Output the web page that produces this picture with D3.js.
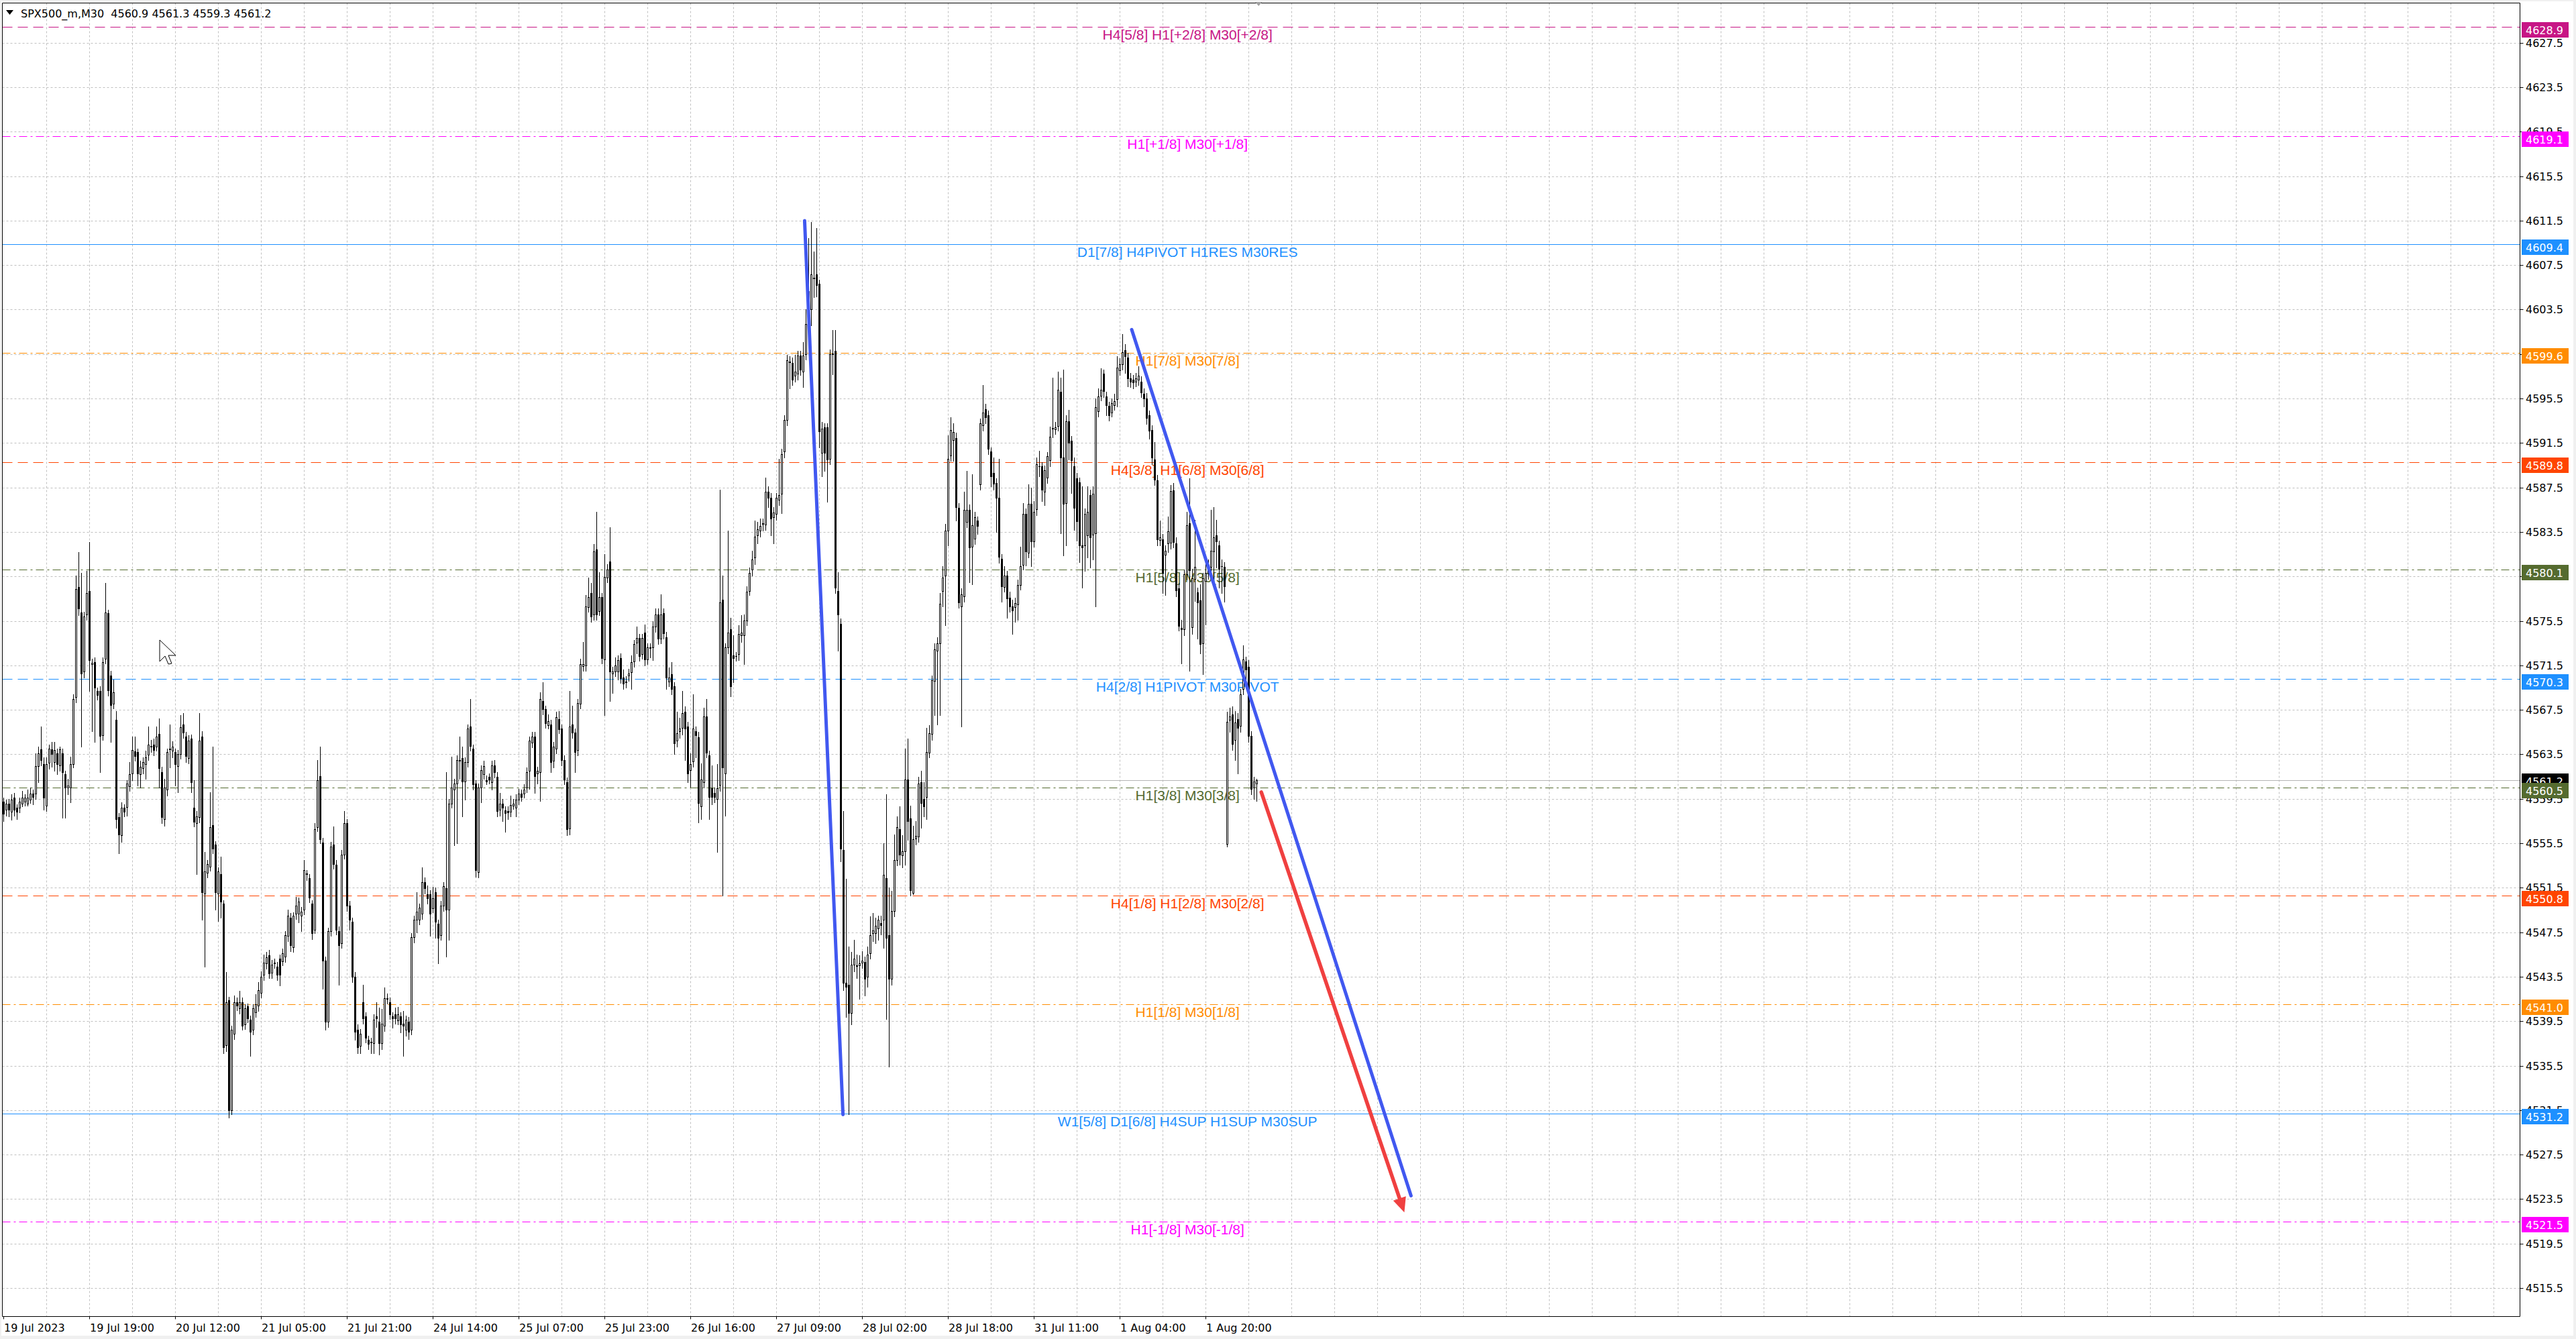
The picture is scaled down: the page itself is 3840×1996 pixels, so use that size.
<!DOCTYPE html>
<html>
<head>
<meta charset="utf-8">
<script src="https://cdn.jsdelivr.net/npm/d3@7"></script>
<style>
  body { margin: 0; background: #f0f0f0; overflow: hidden; }
</style>
</head>
<body>
<script>
// SPX500_m, M30 candles (one value per bar)
const openPrices = [
  4559.25,4558.55,4559.08,4558.37,4559.61,4558.72,4558.72,4559.08,4559.25,4559.08,
  4559.43,4559.96,4559.96,4562.44,4563.92,4562.62,4558.90,4562.79,4563.93,4562.79,
  4563.57,4562.51,4563.57,4561.73,4560.5,4560.5,4562.62,4568.63,4578.55,4576.25,
  4570.93,4576.07,4578.19,4571.6,4571.82,4569.17,4569.17,4565.27,4572.07,4576.18,
  4570.58,4568.1,4566.58,4557.84,4556.25,4558.72,4558.72,4560.67,4561.73,4563.78,
  4563.68,4561.73,4562.27,4562.62,4563.43,4564.2,4564.35,4564.21,4565.34,4561.91,
  4557.66,4560.32,4563.9,4563.86,4563.68,4562.44,4563.5,4566.16,4565.1,4563.15,
  4564.92,4558.72,4557.31,4557.84,4565.1,4550.94,4552.88,4553.41,4557.13,4555.36,
  4550.94,4552.71,4550.05,4537.31,4541.38,4531.47,4538.37,4541.2,4540.67,4541.2,
  4539.24,4540.85,4539.61,4538.72,4540.32,4540.85,4542.08,4543.68,4544.74,4545.45,
  4543.85,4544.7,4544.39,4545.1,4544.92,4545.27,4547.22,4548.81,4546.16,4549.17,
  4549.17,4548.99,4549.52,4552.7,4552.35,4550.05,4547.75,4556.95,4561.56,4555.54,
  4544.92,4539.43,4547.57,4555.36,4553.59,4547.57,4546.51,4554.48,4557.31,4549.87,
  4548.46,4543.5,4538.72,4537.31,4541.2,4539.96,4537.84,4537.6,4537.49,4539.96,
  4539.43,4537.49,4539.08,4541.5,4541.2,4539.96,4540.14,4539.61,4539.96,4539.26,
  4538.72,4539.43,4538.72,4547.04,4548.63,4548.63,4549.17,4551.99,4550.94,4550.94,
  4549.7,4551.1,4548.28,4547.22,4549.87,4551.47,4549.52,4559.08,4560.32,4560.85,
  4562.95,4563.15,4561.02,4562.79,4565.98,4564.03,4560.85,4552.88,4560.5,4561.73,
  4561.2,4561.45,4561.02,4562.51,4561.45,4558.55,4559.08,4558.48,4558.4,4558.37,
  4558.9,4558.72,4559.43,4559.96,4559.96,4560.5,4562.03,4564.56,4565.1,4561.73,
  4561.91,4568.28,4567.57,4566.16,4566.16,4562.97,4564.03,4566.69,4565.8,4562.97,
  4561.02,4556.78,4566.16,4565.45,4563.86,4568.1,4571.47,4571.47,4576.78,4578.02,
  4576.07,4581.91,4576.42,4577.66,4571.98,4579.43,4580.85,4570.76,4570.93,4570.93,
  4572.18,4570.4,4570.05,4570.58,4570.93,4571.82,4573.5,4573.95,4572.53,4574.45,
  4572.03,4573.1,4573.11,4574.99,4576.07,4573.91,4576.18,4574.02,4570.04,4570.68,
  4569.6,4564.76,4565.56,4565.83,4567.34,4565.99,4562.06,4562.87,4565.56,4565.03,
  4558.83,4560.99,4566.91,4563.41,4560.45,4560.02,4559.48,4560.72,4577.42,4561.79,
  4573.11,4574.72,4572.41,4572.33,4572.57,4574.18,4574.18,4575.53,4578.22,4580.11,
  4581.19,4583.18,4583.61,4584.2,4584.15,4587.11,4586.57,4584.8,4585.12,4586.41,
  4586.95,4590.72,4593.58,4598.8,4598.69,4597.51,4597.73,4599.34,4597.89,4599.5,
  4602.2,4603.54,4606.3,4606.67,4605.8,4590.6,4592.88,4592.88,4590.07,4599.5,
  4599.77,4578.2,4575.26,4554.9,4542.94,4542.78,4540.24,4544.56,4544.5,4544.56,
  4544.72,4544.83,4543.48,4545.64,4547.41,4547.41,4547.79,4548.33,4548.6,4552.37,
  4547.25,4543.32,4549.41,4553.98,4556.79,4554.41,4554.79,4561.25,4557.76,4551.02,
  4555.87,4556.14,4560.99,4559.48,4559.64,4563.68,4565.29,4570.14,4572.84,4573.48,
  4578.22,4579.57,4583.61,4590.34,4591.8,4591.96,4585.68,4576.83,4577.72,4584.45,
  4585.51,4582.14,4582.85,4584.55,4587.81,4593.12,4594.53,4594.0,4590.71,4588.8,
  4587.88,4586.57,4581.08,4578.6,4579.6,4577.61,4576.83,4576.76,4577.01,4578.78,
  4580.55,4585.15,4581.61,4586.04,4582.68,4585.51,4589.4,4589.4,4587.1,4588.34,
  4589.93,4592.85,4592.76,4593.05,4596.13,4590.22,4586.11,4593.47,4591.7,4589.4,
  4588.34,4587.99,4582.32,4582.32,4583.21,4586.82,4583.21,4583.38,4594.36,4595.77,
  4597.72,4595.67,4594.82,4594.25,4594.89,4595.42,4598.07,4598.6,4599.84,4599.2,
  4597.3,4597.19,4597.01,4597.19,4597.01,4595.95,4595.52,4594.0,4592.69,4590.0,
  4588.16,4582.78,4582.85,4581.44,4582.5,4582.5,4587.24,4582.5,4578.43,4574.89,
  4574.71,4579.67,4584.27,4574.89,4579.31,4578.07,4577.37,4573.47,4579.13,4579.84,
  4580.37,4581.79,4583.21,4582.32,4580.4,4580.37,4555.4,4566.64,4567.1,4564.8,
  4566.64,4566.04,4569.4,4571.88,4571.35,4565.15,4560.55,4560.9
];
const highPrices = [
  4559.6,4559.4,4559.5,4559.9,4560.0,4559.0,4559.6,4560.2,4559.9,4560.3,
  4560.5,4560.3,4563.6,4564.2,4566.0,4563.2,4563.2,4564.4,4564.6,4564.6,
  4564.0,4564.2,4564.0,4562.0,4561.3,4563.3,4568.9,4579.6,4581.7,4579.8,
  4576.3,4580.0,4582.6,4572.1,4572.2,4569.5,4569.6,4572.2,4578.9,4576.5,
  4571.0,4570.2,4567.4,4558.2,4559.2,4559.0,4561.2,4562.8,4565.1,4565.1,
  4564.0,4562.9,4563.2,4563.8,4565.98,4564.8,4564.9,4566.0,4566.7,4562.4,
  4561.3,4564.0,4566.2,4564.7,4564.0,4563.9,4567.0,4567.2,4565.5,4565.2,
  4565.3,4561.2,4558.4,4567.2,4565.6,4554.7,4554.0,4560.1,4564.2,4555.7,
  4553.3,4554.3,4550.4,4543.9,4541.7,4539.1,4541.8,4541.6,4542.2,4541.6,
  4541.0,4541.1,4540.0,4541.0,4541.9,4543.0,4544.0,4545.5,4545.7,4545.9,
  4545.0,4545.1,4544.8,4545.5,4546.0,4547.6,4549.5,4549.2,4549.3,4550.7,
  4550.6,4549.8,4554.0,4553.1,4552.7,4550.4,4557.3,4563.0,4564.2,4556.0,
  4545.3,4547.9,4555.6,4557.0,4554.0,4548.0,4554.9,4558.4,4557.7,4550.3,
  4548.8,4543.9,4539.2,4538.8,4542.8,4540.3,4538.2,4538.0,4540.1,4541.2,
  4540.7,4540.6,4542.5,4542.0,4541.6,4540.3,4540.7,4540.8,4540.3,4540.4,
  4540.0,4539.9,4547.4,4549.0,4551.1,4550.1,4553.3,4552.4,4551.7,4551.3,
  4551.6,4551.5,4548.6,4550.3,4552.0,4561.9,4559.5,4563.3,4561.3,4563.4,
  4565.1,4564.2,4563.2,4566.2,4568.5,4564.4,4561.2,4560.9,4562.5,4562.9,
  4561.6,4561.8,4562.9,4563.0,4561.9,4560.0,4559.5,4558.8,4558.8,4559.8,
  4559.5,4559.9,4560.4,4560.3,4560.8,4562.3,4565.1,4565.5,4565.5,4562.4,
  4569.1,4570.0,4567.9,4567.1,4566.6,4564.6,4567.3,4567.4,4566.2,4563.4,
  4561.4,4569.2,4567.9,4565.8,4568.5,4572.1,4573.6,4577.8,4579.4,4578.9,
  4582.4,4585.3,4579.9,4578.0,4581.5,4580.6,4583.9,4571.4,4572.2,4572.4,
  4572.6,4571.1,4570.5,4571.2,4572.4,4573.8,4575.0,4574.3,4574.3,4575.2,
  4573.5,4573.5,4575.5,4576.6,4576.6,4577.9,4576.6,4574.5,4571.3,4571.8,
  4570.0,4567.3,4566.8,4569.2,4567.8,4566.4,4563.6,4568.9,4566.0,4565.5,
  4562.7,4567.7,4568.5,4563.8,4562.5,4560.5,4562.6,4587.3,4579.6,4573.5,
  4583.6,4575.8,4574.2,4572.7,4575.1,4576.0,4576.1,4578.6,4580.3,4581.8,
  4584.5,4584.4,4584.7,4584.7,4588.4,4587.6,4587.0,4585.7,4587.0,4590.1,
  4591.0,4594.0,4599.4,4599.3,4599.2,4599.4,4599.8,4599.8,4600.6,4603.5,
  4609.9,4611.35,4608.7,4610.8,4606.2,4593.4,4593.3,4593.3,4599.9,4601.65,
  4601.65,4579.9,4575.7,4558.4,4552.3,4546.2,4545.7,4546.8,4545.5,4545.4,
  4545.8,4545.3,4546.2,4548.9,4549.2,4548.8,4549.0,4549.0,4555.5,4559.9,
  4551.5,4551.2,4556.3,4557.9,4558.8,4556.2,4564.0,4564.9,4558.9,4557.1,
  4557.5,4561.5,4562.0,4561.0,4565.9,4566.1,4570.6,4573.5,4574.0,4578.0,
  4580.4,4584.2,4592.2,4593.8,4593.3,4592.4,4586.1,4578.4,4587.1,4589.0,
  4586.0,4588.7,4585.3,4584.9,4593.7,4596.7,4595.0,4594.4,4591.1,4590.2,
  4588.3,4590.1,4581.5,4580.4,4580.0,4578.1,4577.4,4577.6,4579.2,4582.2,
  4586.1,4585.6,4587.8,4587.5,4586.3,4590.2,4590.8,4589.8,4589.5,4590.7,
  4593.0,4597.4,4593.4,4597.9,4597.4,4598.1,4594.0,4594.5,4592.1,4590.2,
  4588.8,4588.4,4587.6,4585.6,4587.6,4587.3,4587.6,4595.5,4596.4,4598.2,
  4598.1,4596.1,4595.2,4595.5,4595.9,4599.3,4599.1,4601.3,4600.4,4599.6,
  4597.8,4597.6,4597.8,4598.4,4597.5,4596.4,4596.0,4594.4,4593.1,4591.6,
  4588.6,4584.5,4583.3,4582.3,4584.9,4587.7,4587.9,4583.0,4578.9,4575.6,
  4580.1,4585.3,4588.3,4580.2,4584.6,4578.5,4578.8,4579.8,4581.3,4581.0,
  4585.5,4585.7,4584.6,4582.7,4581.0,4580.8,4567.3,4567.7,4567.8,4567.4,
  4567.2,4569.4,4573.3,4572.3,4572.0,4565.6,4561.5,4561.3
];
const lowPrices = [
  4557.5,4558.0,4557.9,4557.6,4558.0,4557.7,4558.3,4558.8,4558.9,4558.9,
  4559.1,4559.0,4559.5,4561.0,4562.5,4558.5,4558.4,4562.2,4562.4,4562.0,
  4561.7,4562.0,4557.8,4557.8,4559.9,4559.2,4562.3,4568.2,4576.0,4564.2,
  4570.4,4575.6,4569.2,4565.6,4564.6,4568.4,4561.9,4564.8,4571.7,4568.8,
  4564.6,4567.6,4556.9,4554.6,4555.6,4557.9,4558.0,4560.2,4561.2,4562.9,
  4560.7,4560.5,4561.8,4561.3,4563.0,4563.7,4563.4,4563.8,4560.5,4557.3,
  4557.1,4559.8,4562.3,4563.2,4560.7,4560.1,4563.1,4565.0,4562.8,4562.7,
  4560.1,4557.0,4552.7,4557.4,4548.6,4544.4,4552.4,4553.0,4554.6,4549.5,
  4548.5,4548.8,4536.6,4536.8,4530.8,4531.1,4537.9,4540.5,4540.2,4538.7,
  4538.8,4539.4,4536.4,4538.3,4539.9,4540.4,4541.6,4543.2,4544.2,4543.4,
  4543.4,4544.3,4543.2,4542.7,4544.5,4544.8,4546.7,4545.8,4545.7,4548.7,
  4548.4,4547.6,4549.1,4552.2,4550.2,4546.9,4547.4,4556.6,4555.5,4542.4,
  4538.7,4539.0,4547.2,4553.2,4547.3,4542.8,4546.1,4554.1,4549.4,4547.7,
  4543.0,4537.8,4536.6,4536.6,4539.3,4537.6,4537.0,4536.6,4536.6,4539.0,
  4536.5,4537.0,4538.6,4541.1,4539.7,4538.9,4539.3,4539.2,4538.5,4536.4,
  4538.2,4537.9,4538.3,4546.6,4547.5,4548.2,4548.7,4551.0,4550.1,4547.2,
  4549.3,4547.0,4544.7,4546.8,4549.4,4545.3,4546.8,4558.7,4555.3,4555.5,
  4561.3,4557.9,4559.4,4562.4,4563.8,4560.3,4552.5,4552.4,4559.2,4561.3,
  4560.8,4560.9,4560.3,4561.4,4557.9,4558.0,4557.5,4556.5,4557.7,4557.9,
  4558.6,4557.9,4559.0,4559.3,4559.6,4560.1,4560.4,4564.1,4560.0,4560.9,
  4559.3,4567.1,4565.9,4565.8,4561.9,4562.3,4563.6,4565.4,4562.5,4560.8,
  4556.2,4556.3,4565.0,4561.9,4563.4,4567.6,4571.0,4571.0,4576.3,4575.4,
  4575.6,4575.6,4576.0,4571.7,4567.0,4579.0,4568.3,4569.0,4570.5,4570.2,
  4569.9,4569.4,4569.5,4570.1,4569.4,4571.4,4572.6,4571.9,4572.1,4571.5,
  4571.6,4572.2,4572.0,4574.5,4573.4,4573.5,4573.9,4569.4,4569.6,4568.9,
  4563.5,4564.2,4565.0,4565.3,4563.0,4561.0,4560.6,4562.4,4563.2,4557.4,
  4557.7,4560.5,4563.2,4557.7,4559.0,4559.2,4554.7,4560.2,4550.8,4558.0,
  4572.6,4568.7,4570.0,4571.9,4572.0,4573.6,4571.6,4575.1,4577.8,4579.6,
  4580.6,4582.5,4583.1,4583.6,4583.7,4585.7,4583.2,4582.5,4584.6,4585.9,
  4585.2,4590.2,4593.1,4596.4,4596.7,4597.0,4597.2,4597.6,4596.5,4599.0,
  4601.8,4602.1,4604.6,4604.7,4591.1,4588.5,4589.0,4586.2,4589.6,4597.7,
  4578.0,4572.8,4553.9,4542.3,4539.9,4531.1,4539.2,4544.0,4543.4,4541.5,
  4544.3,4541.8,4542.6,4545.1,4546.7,4546.5,4546.8,4547.3,4546.1,4539.7,
  4535.4,4542.8,4548.9,4553.5,4553.6,4553.3,4553.6,4555.8,4550.8,4550.9,
  4555.4,4555.6,4556.9,4557.9,4557.7,4563.2,4564.8,4567.0,4566.2,4567.0,
  4576.8,4575.1,4582.3,4589.9,4589.9,4584.5,4576.7,4566.0,4577.2,4583.9,
  4579.0,4578.8,4582.4,4583.3,4587.3,4592.6,4593.3,4590.5,4587.6,4587.3,
  4583.5,4580.7,4577.2,4578.1,4575.8,4576.3,4574.3,4575.4,4575.6,4578.3,
  4580.1,4580.5,4581.2,4580.4,4582.2,4585.0,4588.5,4586.3,4585.9,4587.9,
  4589.4,4592.0,4592.3,4592.6,4583.4,4581.4,4582.3,4590.0,4587.0,4583.7,
  4582.7,4580.8,4578.5,4580.0,4581.2,4580.3,4581.0,4576.8,4593.9,4595.3,
  4595.6,4594.0,4593.5,4593.9,4594.5,4594.8,4597.6,4598.1,4597.8,4596.6,
  4596.5,4596.4,4596.6,4596.7,4595.6,4594.8,4593.2,4591.9,4589.6,4587.7,
  4582.3,4582.3,4578.0,4577.8,4581.7,4582.0,4582.1,4577.7,4574.6,4571.7,
  4574.2,4579.2,4571.0,4574.3,4577.3,4573.9,4572.6,4570.7,4575.2,4579.3,
  4579.9,4578.9,4580.3,4578.5,4578.0,4577.2,4555.2,4565.5,4563.9,4563.0,
  4561.8,4565.5,4568.9,4569.6,4564.6,4559.9,4559.5,4559.3
];
const closePrices = [
  4558.19,4559.08,4558.55,4559.43,4558.55,4558.37,4559.25,4559.61,4559.61,4559.61,
  4559.96,4559.68,4562.44,4563.57,4562.97,4559.61,4562.62,4564.03,4563.5,4563.86,
  4562.62,4563.93,4561.91,4560.5,4560.67,4562.62,4568.46,4578.37,4576.6,4570.76,
  4575.89,4578.02,4572.0,4571.72,4569.52,4568.81,4565.1,4571.82,4576.25,4569.24,
  4567.93,4569.1,4557.66,4556.25,4558.72,4558.37,4560.85,4561.73,4563.86,4563.33,
  4561.73,4562.37,4562.79,4563.22,4564.35,4564.25,4563.86,4565.1,4562.26,4557.84,
  4560.5,4563.68,4563.98,4564.21,4562.62,4563.5,4565.91,4565.45,4563.33,4564.74,
  4561.02,4557.48,4557.91,4564.74,4551.1,4552.95,4553.66,4556.95,4555.0,4551.1,
  4552.95,4550.23,4537.13,4541.2,4531.47,4538.72,4541.2,4540.92,4541.2,4539.08,
  4540.67,4539.78,4538.55,4540.67,4541.02,4542.26,4543.5,4544.74,4545.27,4543.85,
  4544.56,4544.77,4543.68,4543.68,4545.63,4547.22,4549.0,4546.33,4548.99,4549.87,
  4550.23,4549.34,4553.06,4552.78,4550.58,4547.39,4556.78,4561.2,4555.89,4544.92,
  4539.43,4547.57,4555.18,4553.59,4547.75,4546.33,4554.48,4557.31,4549.87,4548.63,
  4543.5,4538.55,4537.13,4538.37,4539.78,4538.02,4537.49,4537.66,4539.61,4539.78,
  4537.49,4539.26,4541.55,4541.58,4540.14,4539.78,4539.78,4540.14,4539.26,4539.08,
  4539.61,4538.55,4547.04,4548.63,4549.34,4549.7,4551.99,4551.47,4550.58,4549.17,
  4550.58,4548.46,4547.04,4549.87,4551.64,4549.52,4559.08,4560.5,4560.85,4562.97,
  4563.0,4561.02,4562.79,4565.8,4564.21,4560.85,4553.06,4560.5,4562.09,4562.44,
  4561.1,4561.2,4562.51,4561.91,4558.37,4559.08,4558.72,4558.26,4558.26,4558.97,
  4559.08,4559.43,4559.96,4559.68,4560.32,4561.91,4564.74,4565.1,4561.56,4562.0,
  4568.46,4567.57,4566.33,4566.51,4562.79,4564.21,4566.86,4565.8,4562.97,4561.2,
  4556.78,4565.98,4565.45,4563.68,4568.1,4571.64,4571.64,4576.78,4577.66,4575.89,
  4581.73,4576.07,4577.66,4572.18,4579.43,4580.14,4570.93,4570.93,4571.47,4571.98,
  4570.4,4569.87,4570.0,4570.76,4571.82,4573.41,4573.95,4572.35,4573.95,4572.03,
  4573.11,4573.15,4574.99,4576.07,4573.91,4576.07,4574.35,4570.42,4570.42,4569.33,
  4564.49,4565.4,4565.83,4567.18,4565.83,4561.79,4562.6,4565.83,4565.19,4559.1,
  4561.25,4566.91,4563.68,4559.64,4559.64,4559.64,4560.45,4577.15,4562.33,4573.11,
  4574.45,4569.6,4572.19,4572.3,4574.35,4574.45,4575.53,4578.12,4579.84,4581.02,
  4583.07,4583.72,4584.04,4584.26,4587.11,4586.57,4584.69,4585.23,4586.57,4586.84,
  4590.51,4593.58,4598.96,4598.85,4597.19,4597.89,4599.34,4598.05,4599.34,4602.2,
  4605.16,4606.67,4606.35,4605.7,4592.5,4592.77,4590.61,4589.97,4599.5,4599.55,
  4578.5,4576.07,4555.06,4542.94,4542.56,4540.24,4544.56,4545.1,4544.55,4544.72,
  4544.93,4543.32,4545.48,4547.25,4547.63,4548.06,4548.6,4548.17,4552.64,4546.98,
  4543.32,4549.41,4553.98,4556.95,4554.52,4554.79,4561.25,4557.49,4551.29,4555.87,
  4556.14,4560.88,4559.1,4558.83,4563.68,4565.4,4570.14,4572.95,4573.48,4577.04,
  4579.41,4583.61,4590.07,4592.66,4592.5,4585.77,4577.19,4577.9,4585.51,4585.51,
  4582.14,4584.09,4584.8,4584.09,4593.3,4594.25,4593.83,4591.0,4588.45,4587.81,
  4586.57,4581.26,4578.6,4579.6,4577.54,4576.83,4576.48,4577.12,4578.75,4580.45,
  4585.15,4581.79,4586.04,4582.68,4585.33,4589.58,4589.37,4587.28,4589.05,4590.29,
  4592.06,4592.8,4592.94,4596.3,4590.22,4586.04,4593.47,4591.52,4589.93,4585.68,
  4584.45,4582.32,4582.14,4585.15,4585.33,4583.03,4586.92,4594.71,4595.67,4596.3,
  4596.13,4594.89,4594.0,4595.07,4595.24,4598.25,4598.6,4599.67,4599.31,4597.3,
  4597.01,4596.94,4597.3,4597.54,4596.02,4595.52,4593.75,4592.59,4590.22,4588.16,
  4582.85,4583.03,4579.84,4581.79,4583.56,4587.17,4582.57,4578.25,4575.06,4574.78,
  4579.67,4584.09,4580.02,4579.31,4580.37,4577.19,4573.47,4579.31,4579.84,4580.55,
  4581.79,4583.03,4582.68,4580.2,4580.37,4578.6,4566.4,4566.92,4564.44,4566.39,
  4565.86,4568.87,4572.06,4571.17,4565.15,4560.38,4561.08,4561.2
];

const timeLabels = ["19 Jul 2023","19 Jul 19:00","20 Jul 12:00","21 Jul 05:00","21 Jul 21:00",
  "24 Jul 14:00","25 Jul 07:00","25 Jul 23:00","26 Jul 16:00","27 Jul 09:00","28 Jul 02:00",
  "28 Jul 18:00","31 Jul 11:00","1 Aug 04:00","1 Aug 20:00"];
const timeLabelBars = [0,32,64,96,128,160,192,224,256,288,320,352,384,416,448];

const priceTicks = [4627.5,4623.5,4619.5,4615.5,4611.5,4607.5,4603.5,4599.5,4595.5,4591.5,
  4587.5,4583.5,4579.5,4575.5,4571.5,4567.5,4563.5,4559.5,4555.5,4551.5,4547.5,4543.5,
  4539.5,4535.5,4531.5,4527.5,4523.5,4519.5,4515.5];

// Murrey-math style levels drawn by the indicator
const levelPrices = [4628.9,4619.1,4609.4,4599.6,4589.8,4580.1,4570.3,4560.5,4550.8,4541.0,4531.2,4521.5];
const levelNames = ["H4[5/8] H1[+2/8] M30[+2/8]","H1[+1/8] M30[+1/8]","D1[7/8] H4PIVOT H1RES M30RES",
  "H1[7/8] M30[7/8]","H4[3/8] H1[6/8] M30[6/8]","H1[5/8] M30[5/8]","H4[2/8] H1PIVOT M30PIVOT",
  "H1[3/8] M30[3/8]","H4[1/8] H1[2/8] M30[2/8]","H1[1/8] M30[1/8]",
  "W1[5/8] D1[6/8] H4SUP H1SUP M30SUP","H1[-1/8] M30[-1/8]"];

const lastPrice = 4561.2;

// hand-drawn objects: [bar, price, bar, price]
const blueLines = [[298.6, 4611.5, 312.9, 4531.1], [420.5, 4601.7, 524.6, 4523.8]];
const redArrow = [468.8, 4560.1, 522.1, 4522.3];

// ---- styles ----
const DASH = "15,8", DASHDOT = "12,5,3,5";
const levelStyle = [
  { color: "#c71585", dash: DASH },
  { color: "#ff00ff", dash: DASHDOT },
  { color: "#1e90ff", dash: null },
  { color: "#ff8c00", dash: DASHDOT },
  { color: "#ff4500", dash: DASH },
  { color: "#556b2f", dash: DASHDOT },
  { color: "#1e90ff", dash: DASH },
  { color: "#556b2f", dash: DASHDOT },
  { color: "#ff4500", dash: DASH },
  { color: "#ff8c00", dash: DASHDOT },
  { color: "#1e90ff", dash: null },
  { color: "#ff00ff", dash: DASHDOT }
];

const W = 3840, H = 1996;
const plot = { left: 3.5, top: 4.5, right: 3756.5, bottom: 1962.5 };
const axisFont = "'DejaVu Sans', Verdana, sans-serif";
const labelFont = "'Liberation Sans', Arial, sans-serif";

const x = d3.scaleLinear().domain([0, 448]).range([5, 1797]);
const y = d3.scaleLinear().domain([4627.5, 4515.5]).range([63.7, 1920]);
const px = v => Math.round(v) + 0.5;

const svg = d3.select("body").append("svg")
  .attr("width", W).attr("height", H)
  .style("display", "block");

svg.append("rect").attr("x", 2).attr("y", 2).attr("width", W - 6).attr("height", H - 7)
  .attr("fill", "#fff");

svg.append("clipPath").attr("id", "plotClip")
  .append("rect")
  .attr("x", plot.left).attr("y", plot.top)
  .attr("width", plot.right - plot.left).attr("height", plot.bottom - plot.top);

const pg = svg.append("g").attr("clip-path", "url(#plotClip)");

// grid
const gridBars = d3.range(16, 940, 16).filter(b => x(b) < plot.right - 2);
pg.append("g").selectAll("line").data(gridBars).join("line")
  .attr("x1", b => px(x(b))).attr("x2", b => px(x(b)))
  .attr("y1", plot.top).attr("y2", plot.bottom)
  .attr("stroke", "#c0c0c0").attr("stroke-width", 1).attr("stroke-dasharray", "3,3");
pg.append("g").selectAll("line").data(priceTicks).join("line")
  .attr("x1", plot.left).attr("x2", plot.right)
  .attr("y1", p => px(y(p))).attr("y2", p => px(y(p)))
  .attr("stroke", "#c0c0c0").attr("stroke-width", 1).attr("stroke-dasharray", "3,3");

// current price line
pg.append("line")
  .attr("x1", plot.left).attr("x2", plot.right)
  .attr("y1", px(y(lastPrice))).attr("y2", px(y(lastPrice)))
  .attr("stroke", "#b4b4b4").attr("stroke-width", 1);

// level lines + names
const lv = pg.append("g");
lv.selectAll("line").data(levelPrices).join("line")
  .attr("x1", plot.left).attr("x2", plot.right)
  .attr("y1", p => px(y(p))).attr("y2", p => px(y(p)))
  .attr("stroke", (p, i) => levelStyle[i].color)
  .attr("stroke-width", 1.2)
  .attr("stroke-dasharray", (p, i) => levelStyle[i].dash);
lv.selectAll("text").data(levelPrices).join("text")
  .attr("x", x(441.3)).attr("y", p => y(p) + 19)
  .attr("text-anchor", "middle")
  .attr("font-family", labelFont).attr("font-size", 21)
  .attr("fill", (p, i) => levelStyle[i].color)
  .text((p, i) => levelNames[i]);

// candles
const bars = d3.range(closePrices.length);
const cg = pg.append("g");
cg.selectAll("line").data(bars).join("line")
  .attr("x1", i => px(x(i))).attr("x2", i => px(x(i)))
  .attr("y1", i => Math.round(y(Math.max(highPrices[i], openPrices[i], closePrices[i]))))
  .attr("y2", i => Math.round(y(Math.min(lowPrices[i], openPrices[i], closePrices[i]))) + 1)
  .attr("stroke", "#000").attr("stroke-width", 1);
cg.selectAll("rect").data(bars).join("rect")
  .attr("x", i => px(x(i)) - 1)
  .attr("width", 2)
  .attr("y", i => Math.round(y(Math.max(openPrices[i], closePrices[i]))) + 0.5)
  .attr("height", i => Math.max(0.01, Math.round(Math.abs(y(openPrices[i]) - y(closePrices[i])))))
  .attr("fill", i => closePrices[i] >= openPrices[i] ? "#fff" : "#000")
  .attr("stroke", "#000").attr("stroke-width", 1);

// trend lines
const tg = pg.append("g");
tg.selectAll("line").data(blueLines).join("line")
  .attr("x1", d => x(d[0])).attr("y1", d => y(d[1]))
  .attr("x2", d => x(d[2])).attr("y2", d => y(d[3]))
  .attr("stroke", "#4158f0").attr("stroke-width", 5).attr("stroke-linecap", "round");

{
  const x0 = x(redArrow[0]), y0 = y(redArrow[1]);
  const x1 = x(redArrow[2]), y1 = y(redArrow[3]);
  const len = Math.hypot(x1 - x0, y1 - y0);
  const ux = (x1 - x0) / len, uy = (y1 - y0) / len;
  const headL = 22, headW = 10;
  tg.append("line")
    .attr("x1", x0).attr("y1", y0)
    .attr("x2", x1 - ux * (headL - 2)).attr("y2", y1 - uy * (headL - 2))
    .attr("stroke", "#f04040").attr("stroke-width", 5.5).attr("stroke-linecap", "round");
  const bx = x1 - ux * headL, by = y1 - uy * headL;
  tg.append("polygon")
    .attr("points", [[x1, y1], [bx - uy * headW, by + ux * headW], [bx + uy * headW, by - ux * headW]]
      .map(p => p.join(",")).join(" "))
    .attr("fill", "#f04040");
}

// mouse pointer left on the screenshot
pg.append("polygon")
  .attr("points", "238,954 238,986 246,978 251,990 256,989 251,977 262,977")
  .attr("fill", "#fff").attr("stroke", "#000").attr("stroke-width", 1);

// frame
svg.append("path")
  .attr("d", `M${plot.left},${plot.bottom}V${plot.top}H${plot.right}V${plot.bottom}H${plot.left}`)
  .attr("fill", "none").attr("stroke", "#000").attr("stroke-width", 1);

// shift marker at top
svg.append("polygon")
  .attr("points", `${x(467.8) - 5},3 ${x(467.8) + 5},3 ${x(467.8)},9`)
  .attr("fill", "#a0a0a0");

// price axis
const ya = svg.append("g");
ya.selectAll("line").data(priceTicks).join("line")
  .attr("x1", plot.right).attr("x2", plot.right + 5)
  .attr("y1", p => px(y(p))).attr("y2", p => px(y(p)))
  .attr("stroke", "#000");
ya.selectAll("text").data(priceTicks).join("text")
  .attr("x", 3765).attr("y", p => y(p) + 6)
  .attr("font-family", axisFont).attr("font-size", 16).attr("fill", "#000")
  .text(p => p.toFixed(1));

// price tags: current price first, then the levels
const tags = [{ p: lastPrice, c: "#000" }].concat(levelPrices.map((p, i) => ({ p, c: levelStyle[i].color })));
const tg2 = ya.append("g");
tags.forEach(t => {
  const top = Math.round(y(t.p)) - 7 - (t.p === lastPrice ? 3 : 0);
  tg2.append("rect").attr("x", 3759).attr("y", top).attr("width", 70).attr("height", 23).attr("fill", t.c);
  tg2.append("text").attr("x", 3765).attr("y", top + 17.5)
    .attr("font-family", axisFont).attr("font-size", 16).attr("fill", "#fff")
    .text(t.p.toFixed(1));
});

// time axis
const xa = svg.append("g");
xa.selectAll("line").data(timeLabelBars).join("line")
  .attr("x1", b => px(x(b))).attr("x2", b => px(x(b)))
  .attr("y1", plot.bottom).attr("y2", plot.bottom + 4)
  .attr("stroke", "#000");
xa.selectAll("text").data(timeLabelBars).join("text")
  .attr("x", b => x(b) + 1).attr("y", 1985)
  .attr("font-family", axisFont).attr("font-size", 16).attr("fill", "#000")
  .text((b, i) => timeLabels[i]);

// title
svg.append("polygon").attr("points", "9,15 20,15 14.5,22").attr("fill", "#000");
svg.append("text").attr("x", 31).attr("y", 26)
  .attr("font-family", axisFont).attr("font-size", 16).attr("fill", "#000")
  .attr("xml:space", "preserve")
  .text("SPX500_m,M30  4560.9 4561.3 4559.3 4561.2");
</script>
</body>
</html>
